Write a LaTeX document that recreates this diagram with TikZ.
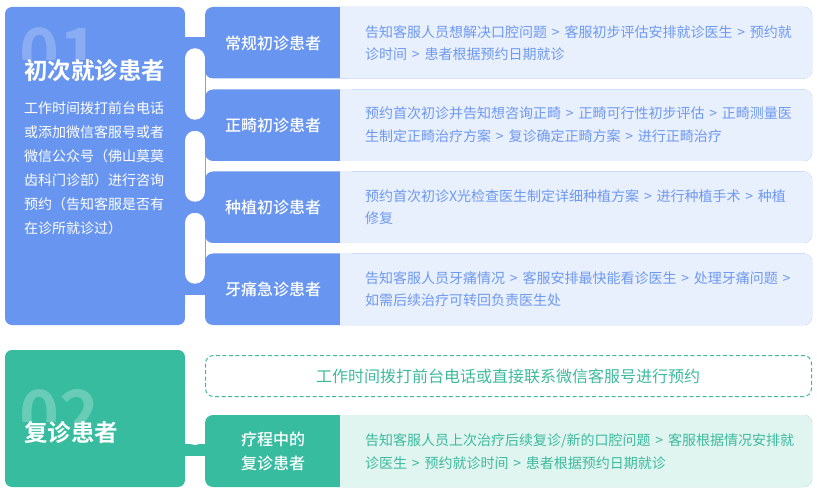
\documentclass[tikz,border=0pt]{standalone}
\usepackage{fontspec}
\setmainfont{Noto Sans CJK SC}
\newfontfamily\cjkb{Noto Sans CJK SC Bold}
\newfontfamily\cjkm{Noto Sans CJK SC Medium}
\definecolor{blueA}{HTML}{6895EF}
\definecolor{blueL}{HTML}{E8EFFD}
\definecolor{blueT}{HTML}{6F99F0}
\definecolor{tealA}{HTML}{37BC9F}
\definecolor{tealL}{HTML}{E0F5F0}
\definecolor{tealT}{HTML}{3DBA9D}
\newcommand\arr{\hspace{4.8pt}>\hspace{4.8pt}}
\tikzset{
  desc/.style={anchor=west, align=left, inner sep=0, font=\fontsize{14}{22.7}\selectfont},
  lab/.style={align=center, inner sep=0, text=white, font=\cjkm\fontsize{16}{24}\selectfont},
  ttl/.style={anchor=west, inner sep=0, text=white, font=\cjkb\fontsize{23.5}{24}\selectfont},
  digit/.style={anchor=north west, inner sep=0, text=white, text opacity=0.22, font=\cjkb\fontsize{68}{68}\selectfont},
  slot/.style={fill=white, rounded corners=10pt}
}
\begin{document}
\begin{tikzpicture}[x=1pt,y=-1pt]
\useasboundingbox (0,0) rectangle (817,489);
% ---------- section 1 ----------
\fill[blueA, rounded corners=7pt] (5,7) rectangle (185,325);
\fill[blueA] (184,37) rectangle (206,295);
\foreach \a/\b in {-20/37.25, 48.25/119.75, 130.75/201.75, 212.75/283.75, 294.75/340}
  \fill[slot] (185,\a) rectangle (205,\b);
\foreach \t/\c in {7/42.75, 89.5/125.25, 171.5/207.25, 253.5/289.25}{
  \fill[blueA, rounded corners=8pt] (205,\t) rectangle (812,\t+71.5);
  \fill[blueL, rounded corners=8pt] (340,\t) rectangle (812,\t+71.5);
  \fill[blueL] (340,\t) rectangle (352,\t+71.5);
  \fill[blueA] (183,\c-5.5) rectangle (207,\c+5.5);
}
\begin{scope}
  \clip (5,0) rectangle (185,60);
  \node[digit] (n1) at (19,27) {01};
\end{scope}
\node[ttl] (t1) at (24,71) {初次就诊患者};
\node[desc, text=white, font=\fontsize{14}{24}\selectfont] (d1) at (24,168)
  {工作时间拨打前台电话\\或添加微信客服号或者\\微信公众号（佛山莫莫\\齿科门诊部）进行咨询\\预约（告知客服是否有\\在诊所就诊过）};
\node[lab] (l1) at (273,43) {常规初诊患者};
\node[lab] (l2) at (273,125.5) {正畸初诊患者};
\node[lab] (l3) at (273,207.5) {种植初诊患者};
\node[lab] (l4) at (273,289.5) {牙痛急诊患者};
\node[desc, text=blueT] (r1) at (365,43) {告知客服人员想解决口腔问题\arr 客服初步评估安排就诊医生\arr 预约就\\诊时间\arr 患者根据预约日期就诊};
\node[desc, text=blueT] (r2) at (365,125) {预约首次初诊并告知想咨询正畸\arr 正畸可行性初步评估\arr 正畸测量医\\生制定正畸治疗方案\arr 复诊确定正畸方案\arr 进行正畸治疗};
\node[desc, text=blueT] (r3) at (365,207) {预约首次初诊X光检查医生制定详细种植方案\arr 进行种植手术\arr 种植\\修复};
\node[desc, text=blueT] (r4) at (365,289) {告知客服人员牙痛情况\arr 客服安排最快能看诊医生\arr 处理牙痛问题\arr\\如需后续治疗可转回负责医生处};
% ---------- section 2 ----------
\fill[tealA, rounded corners=7pt] (5,350) rectangle (185,487);
\fill[tealA] (184,444) rectangle (206,456);
\fill[slot] (185,340) rectangle (205,445);
\fill[slot] (185,455.5) rectangle (205,510);
\fill[tealA, rounded corners=8pt] (205,415) rectangle (812,487);
\fill[tealL, rounded corners=8pt] (340,415) rectangle (812,487);
\fill[tealL] (340,415) rectangle (352,487);
\fill[tealA] (183,445) rectangle (207,455.5);
\draw[tealT, line width=1pt, dash pattern=on 4pt off 2.5pt, rounded corners=8pt] (205.5,355.5) rectangle (811.5,396.5);
\begin{scope}
  \clip (5,350) rectangle (185,421);
  \node[digit, text opacity=0.25] (n2) at (19,389) {02};
\end{scope}
\node[ttl] (t2) at (24,433) {复诊患者};
\node[font=\fontsize{16}{20}\selectfont, text=tealT, inner sep=0] (dash) at (508,376) {工作时间拨打前台电话或直接联系微信客服号进行预约};
\node[lab] (l5) at (273,451.5) {疗程中的\\复诊患者};
\node[desc, text=tealT] (r5) at (365,451.5) {告知客服人员上次治疗后续复诊/新的口腔问题\arr 客服根据情况安排就\\诊医生\arr 预约就诊时间\arr 患者根据预约日期就诊};
\end{tikzpicture}
\end{document}
